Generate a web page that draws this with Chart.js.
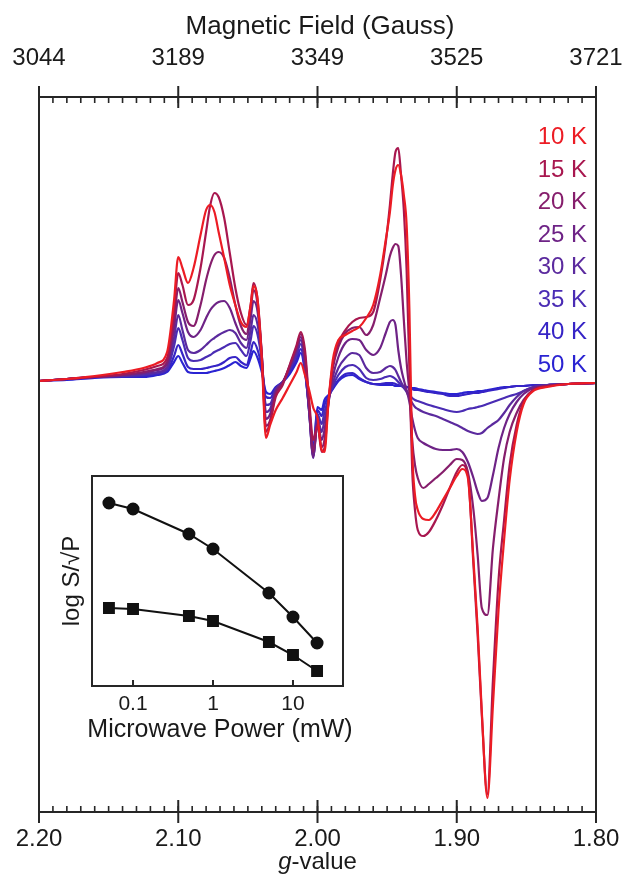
<!DOCTYPE html>
<html>
<head>
<meta charset="utf-8">
<script src="https://cdn.jsdelivr.net/npm/chart.js@4.4.1/dist/chart.umd.min.js"></script>
<style>
  html, body { margin: 0; padding: 0; background: #fff; }
  #wrap { position: relative; width: 632px; height: 877px; }
  #wrap canvas { position: absolute; left: 0; top: 0; }
</style>
</head>
<body>
<div id="wrap">
  <canvas id="epr" width="632" height="877"></canvas>
  <canvas id="inset" width="632" height="877"></canvas>
</div>
<script>
// g-value grid shared by all traces
const gGrid = [
  2.200, 2.180, 2.160, 2.140, 2.125, 2.115, 2.108, 2.103, 2.100, 2.097,
  2.093, 2.089, 2.084, 2.080, 2.077, 2.074, 2.071, 2.067, 2.063, 2.059,
  2.055, 2.051, 2.048, 2.046, 2.043, 2.040, 2.037, 2.034, 2.030, 2.025,
  2.020, 2.015, 2.012, 2.009, 2.006, 2.003, 2.000, 1.997, 1.995, 1.992,
  1.989, 1.985, 1.980, 1.975, 1.970, 1.965, 1.960, 1.955, 1.951, 1.948,
  1.946, 1.944, 1.942, 1.940, 1.938, 1.936, 1.934, 1.932, 1.930, 1.928,
  1.924, 1.920, 1.915, 1.910, 1.905, 1.900, 1.896, 1.892, 1.888, 1.885,
  1.882, 1.878, 1.874, 1.870, 1.866, 1.862, 1.857, 1.852, 1.845, 1.835,
  1.820, 1.800
];

// EPR signal (arb. units) for each temperature
const k10 = [
  0, 2, 5, 9, 13, 18, 29, 81, 124, 113,
  98, 113, 146, 171, 176, 169, 149, 123, 96, 76,
  59, 54, 76, 95, 81, 21, -57, -44, -29, -17,
  -4, 9, 18, 6, -9, -27, -37, -69, -71, -19,
  21, 41, 46, 50, 54, 63, 76, 106, 141, 169,
  195, 211, 216, 206, 186, 156, 71, -69, -114, -129,
  -138, -139, -131, -119, -107, -95, -88, -97, -179, -247,
  -331, -417, -324, -229, -159, -99, -51, -23, -10, -6,
  -3, -2
];
const k15 = [
  0, 2, 4, 7, 11, 15, 23, 71, 108, 96,
  76, 81, 113, 149, 176, 188, 184, 163, 128, 93,
  68, 56, 76, 98, 81, 26, -51, -41, -16, -4,
  16, 36, 49, 31, -19, -59, -44, -71, -67, -19,
  16, 38, 51, 59, 63, 64, 69, 101, 138, 176,
  206, 229, 233, 206, 171, 111, 11, -89, -129, -149,
  -155, -151, -139, -124, -107, -91, -84, -94, -184, -254,
  -334, -413, -299, -199, -139, -84, -44, -21, -9, -5,
  -3, -2
];
const k20 = [
  0, 2, 4, 6, 9, 12, 19, 61, 93, 79,
  59, 55, 76, 101, 116, 126, 129, 123, 103, 76,
  55, 47, 71, 91, 76, 26, -45, -39, -13, -2,
  15, 34, 47, 26, -24, -71, -44, -66, -59, -19,
  13, 34, 48, 53, 54, 46, 56, 83, 106, 125,
  133, 137, 135, 106, 61, 19, -12, -59, -84, -97,
  -107, -103, -97, -91, -84, -78, -79, -91, -129, -174,
  -227, -234, -167, -119, -77, -51, -32, -19, -9, -5,
  -3, -2
];
const k25 = [
  0, 2, 4, 6, 8, 11, 17, 53, 81, 68,
  49, 44, 51, 63, 71, 76, 79, 80, 73, 58,
  45, 41, 63, 80, 69, 26, -38, -33, -11, -2,
  14, 32, 44, 21, -29, -76, -41, -59, -49, -21,
  4, 24, 38, 42, 41, 31, 26, 33, 48, 59,
  61, 56, 31, 13, 1, -9, -21, -37, -49, -57,
  -62, -65, -68, -69, -69, -68, -71, -81, -97, -111,
  -120, -117, -94, -67, -47, -33, -21, -13, -7, -5,
  -3, -2
];
const k30 = [
  0, 2, 4, 5, 7, 9, 14, 43, 66, 51,
  31, 28, 31, 36, 40, 43, 46, 49, 51, 48,
  38, 33, 51, 66, 56, 23, -31, -28, -9, -1,
  13, 29, 41, 16, -31, -77, -37, -51, -39, -19,
  -2, 13, 23, 28, 26, 13, 8, 9, 13, 15,
  14, 11, 5, -1, -6, -11, -17, -22, -26, -28,
  -31, -33, -35, -38, -41, -44, -47, -50, -52, -53,
  -52, -47, -43, -39, -32, -24, -16, -10, -6, -4,
  -3, -2
];
const k35 = [
  0, 2, 4, 5, 6, 8, 12, 35, 53, 41,
  23, 20, 21, 24, 26, 29, 31, 34, 37, 38,
  31, 25, 41, 55, 46, 19, -24, -23, -8, -1,
  11, 26, 37, 13, -31, -75, -33, -43, -31, -17,
  -5, 6, 14, 16, 12, 3, 1, 2, 4, 5,
  4, 2, -1, -4, -7, -10, -14, -17, -19, -20,
  -22, -24, -26, -28, -30, -31, -30, -28, -27, -26,
  -25, -23, -21, -19, -17, -15, -13, -10, -6, -4,
  -3, -2
];
const k40 = [
  0, 2, 4, 4, 5, 7, 10, 25, 36, 27,
  14, 12, 12, 13, 14, 15, 16, 19, 23, 24,
  19, 16, 29, 39, 31, 13, -16, -17, -7, -1,
  9, 22, 32, 11, -29, -71, -29, -35, -24, -15,
  -7, 1, 7, 8, 3, -1, -3, -3, -2, -2,
  -2, -3, -4, -5, -5, -6, -7, -8, -9, -9,
  -10, -11, -12, -13, -15, -15, -14, -13, -12, -12,
  -11, -10, -9, -8, -7, -6, -5, -5, -4, -4,
  -3, -2
];
const k50 = [
  0, 1, 3, 4, 4, 6, 9, 19, 25, 18,
  9, 8, 8, 8, 9, 10, 11, 13, 16, 19,
  15, 13, 23, 30, 23, 9, -11, -13, -6, -1,
  7, 19, 28, 9, -27, -67, -26, -29, -19, -14,
  -8, 0, 5, 6, 2, -1, -3, -4, -4, -4,
  -4, -5, -5, -5, -6, -6, -6, -7, -7, -8,
  -9, -10, -11, -12, -13, -13, -12, -11, -11, -10,
  -10, -9, -8, -7, -6, -6, -5, -5, -4, -4,
  -3, -2
];

const temps = ['10 K', '15 K', '20 K', '25 K', '30 K', '35 K', '40 K', '50 K'];
const traces = [k10, k15, k20, k25, k30, k35, k40, k50];
const lineColors = ['#ec1c24', '#a8174f', '#861e6c', '#6e2386', '#5b2a9e', '#4a2cb4', '#3624c6', '#2a23d2'];

// axis ticks
const gTicks = [2.20, 2.10, 2.00, 1.90, 1.80];
const gLabels = ['2.20', '2.10', '2.00', '1.90', '1.80'];
const fieldLabels = ['3044', '3189', '3349', '3525', '3721'];

// inset: power saturation
const power = [0.05, 0.1, 0.5, 1, 5, 10, 20];
const satCircles = [1.83, 1.77, 1.52, 1.37, 0.93, 0.69, 0.43];
const satSquares = [0.78, 0.77, 0.70, 0.65, 0.44, 0.31, 0.15];
const powerTicks = [0.1, 1, 10];
const powerLabels = ['0.1', '1', '10'];

const FONT = '"Liberation Sans", Arial, Helvetica, sans-serif';
const INK = '#262626';

const eprFrame = {
  id: 'eprFrame',
  afterDraw(chart) {
    const { ctx, chartArea: a } = chart;
    const xs = chart.scales.x;
    ctx.save();
    ctx.strokeStyle = INK;
    ctx.lineWidth = 2;
    ctx.strokeRect(a.left, a.top, a.right - a.left, a.bottom - a.top);

    // minor ticks, 0.01 in g
    ctx.lineWidth = 1.6;
    ctx.beginPath();
    for (let i = 0; i <= 40; i++) {
      const px = xs.getPixelForValue(1.80 + i * 0.01);
      ctx.moveTo(px, a.top); ctx.lineTo(px, a.top + 6);
      ctx.moveTo(px, a.bottom); ctx.lineTo(px, a.bottom - 6);
    }
    ctx.stroke();

    // major ticks cross the axis lines
    ctx.lineWidth = 2;
    ctx.beginPath();
    gTicks.forEach(g => {
      const px = xs.getPixelForValue(g);
      ctx.moveTo(px, a.top - 11); ctx.lineTo(px, a.top + 11);
      ctx.moveTo(px, a.bottom - 12); ctx.lineTo(px, a.bottom + 11);
    });
    ctx.stroke();

    ctx.fillStyle = '#1a1a1a';
    ctx.textAlign = 'center';
    ctx.font = '24px ' + FONT;
    gTicks.forEach((g, i) => {
      const px = xs.getPixelForValue(g);
      ctx.fillText(fieldLabels[i], px, 65);
      ctx.fillText(gLabels[i], px, 846);
    });
    ctx.font = '26px ' + FONT;
    ctx.fillText('Magnetic Field (Gauss)', 320, 34);

    // "g-value" with italic g
    ctx.font = 'italic 24px ' + FONT;
    const wg = ctx.measureText('g').width;
    ctx.font = '24px ' + FONT;
    const wr = ctx.measureText('-value').width;
    const x0 = (a.left + a.right) / 2 - (wg + wr) / 2;
    ctx.textAlign = 'left';
    ctx.font = 'italic 24px ' + FONT;
    ctx.fillText('g', x0, 869);
    ctx.font = '24px ' + FONT;
    ctx.fillText('-value', x0 + wg, 869);

    // temperature legend
    ctx.textAlign = 'right';
    temps.forEach((t, i) => {
      ctx.fillStyle = lineColors[i];
      ctx.fillText(t, 587, 144 + i * 32.5);
    });
    ctx.restore();
  }
};

new Chart(document.getElementById('epr'), {
  type: 'line',
  data: {
    datasets: temps.map((t, i) => ({
      label: t,
      data: gGrid.map((g, j) => ({ x: g, y: traces[i][j] })),
      borderColor: lineColors[i],
      borderWidth: 2.2,
      pointRadius: 0,
      fill: false,
      cubicInterpolationMode: 'monotone'
    }))
  },
  options: {
    responsive: false,
    animation: false,
    devicePixelRatio: 1,
    layout: { padding: { left: 39, top: 97, right: 36, bottom: 65 } },
    plugins: { legend: { display: false }, tooltip: { enabled: false } },
    scales: {
      x: { type: 'linear', min: 1.80, max: 2.20, reverse: true, display: false },
      y: { type: 'linear', min: -431, max: 284, display: false }
    }
  },
  plugins: [eprFrame]
});

const insetFrame = {
  id: 'insetFrame',
  beforeDatasetsDraw(chart) {
    const { ctx, chartArea: a } = chart;
    ctx.save();
    ctx.fillStyle = '#fff';
    ctx.fillRect(a.left, a.top, a.right - a.left, a.bottom - a.top);
    ctx.restore();
  },
  afterDraw(chart) {
    const { ctx, chartArea: a } = chart;
    const xs = chart.scales.x;
    ctx.save();
    ctx.strokeStyle = INK;
    ctx.lineWidth = 2;
    ctx.strokeRect(a.left, a.top, a.right - a.left, a.bottom - a.top);
    ctx.beginPath();
    powerTicks.forEach(p => {
      const px = xs.getPixelForValue(p);
      ctx.moveTo(px, a.bottom); ctx.lineTo(px, a.bottom - 6);
    });
    ctx.stroke();

    ctx.fillStyle = '#1a1a1a';
    ctx.textAlign = 'center';
    ctx.font = '21px ' + FONT;
    powerTicks.forEach((p, i) => ctx.fillText(powerLabels[i], xs.getPixelForValue(p), 710));
    ctx.font = '25px ' + FONT;
    ctx.fillText('Microwave Power (mW)', 220, 737);

    ctx.translate(79, (a.top + a.bottom) / 2);
    ctx.rotate(-Math.PI / 2);
    ctx.font = '24px ' + FONT;
    ctx.fillText('log S/\u221AP', 0, 0);
    ctx.restore();
  }
};

new Chart(document.getElementById('inset'), {
  type: 'scatter',
  data: {
    datasets: [
      {
        data: power.map((p, i) => ({ x: p, y: satCircles[i] })),
        showLine: true,
        borderColor: '#111',
        borderWidth: 2,
        pointStyle: 'circle',
        pointRadius: 5.5,
        pointBackgroundColor: '#111',
        pointBorderColor: '#111'
      },
      {
        data: power.map((p, i) => ({ x: p, y: satSquares[i] })),
        showLine: true,
        borderColor: '#111',
        borderWidth: 2,
        pointStyle: 'rect',
        pointRadius: 7,
        pointBackgroundColor: '#111',
        pointBorderColor: '#111'
      }
    ]
  },
  options: {
    responsive: false,
    animation: false,
    devicePixelRatio: 1,
    layout: { padding: { left: 92, top: 476, right: 289, bottom: 191 } },
    plugins: { legend: { display: false }, tooltip: { enabled: false } },
    scales: {
      x: { type: 'logarithmic', min: 0.0307, max: 42.2, display: false },
      y: { type: 'linear', min: 0, max: 2.1, display: false }
    }
  },
  plugins: [insetFrame]
});
</script>
</body>
</html>
